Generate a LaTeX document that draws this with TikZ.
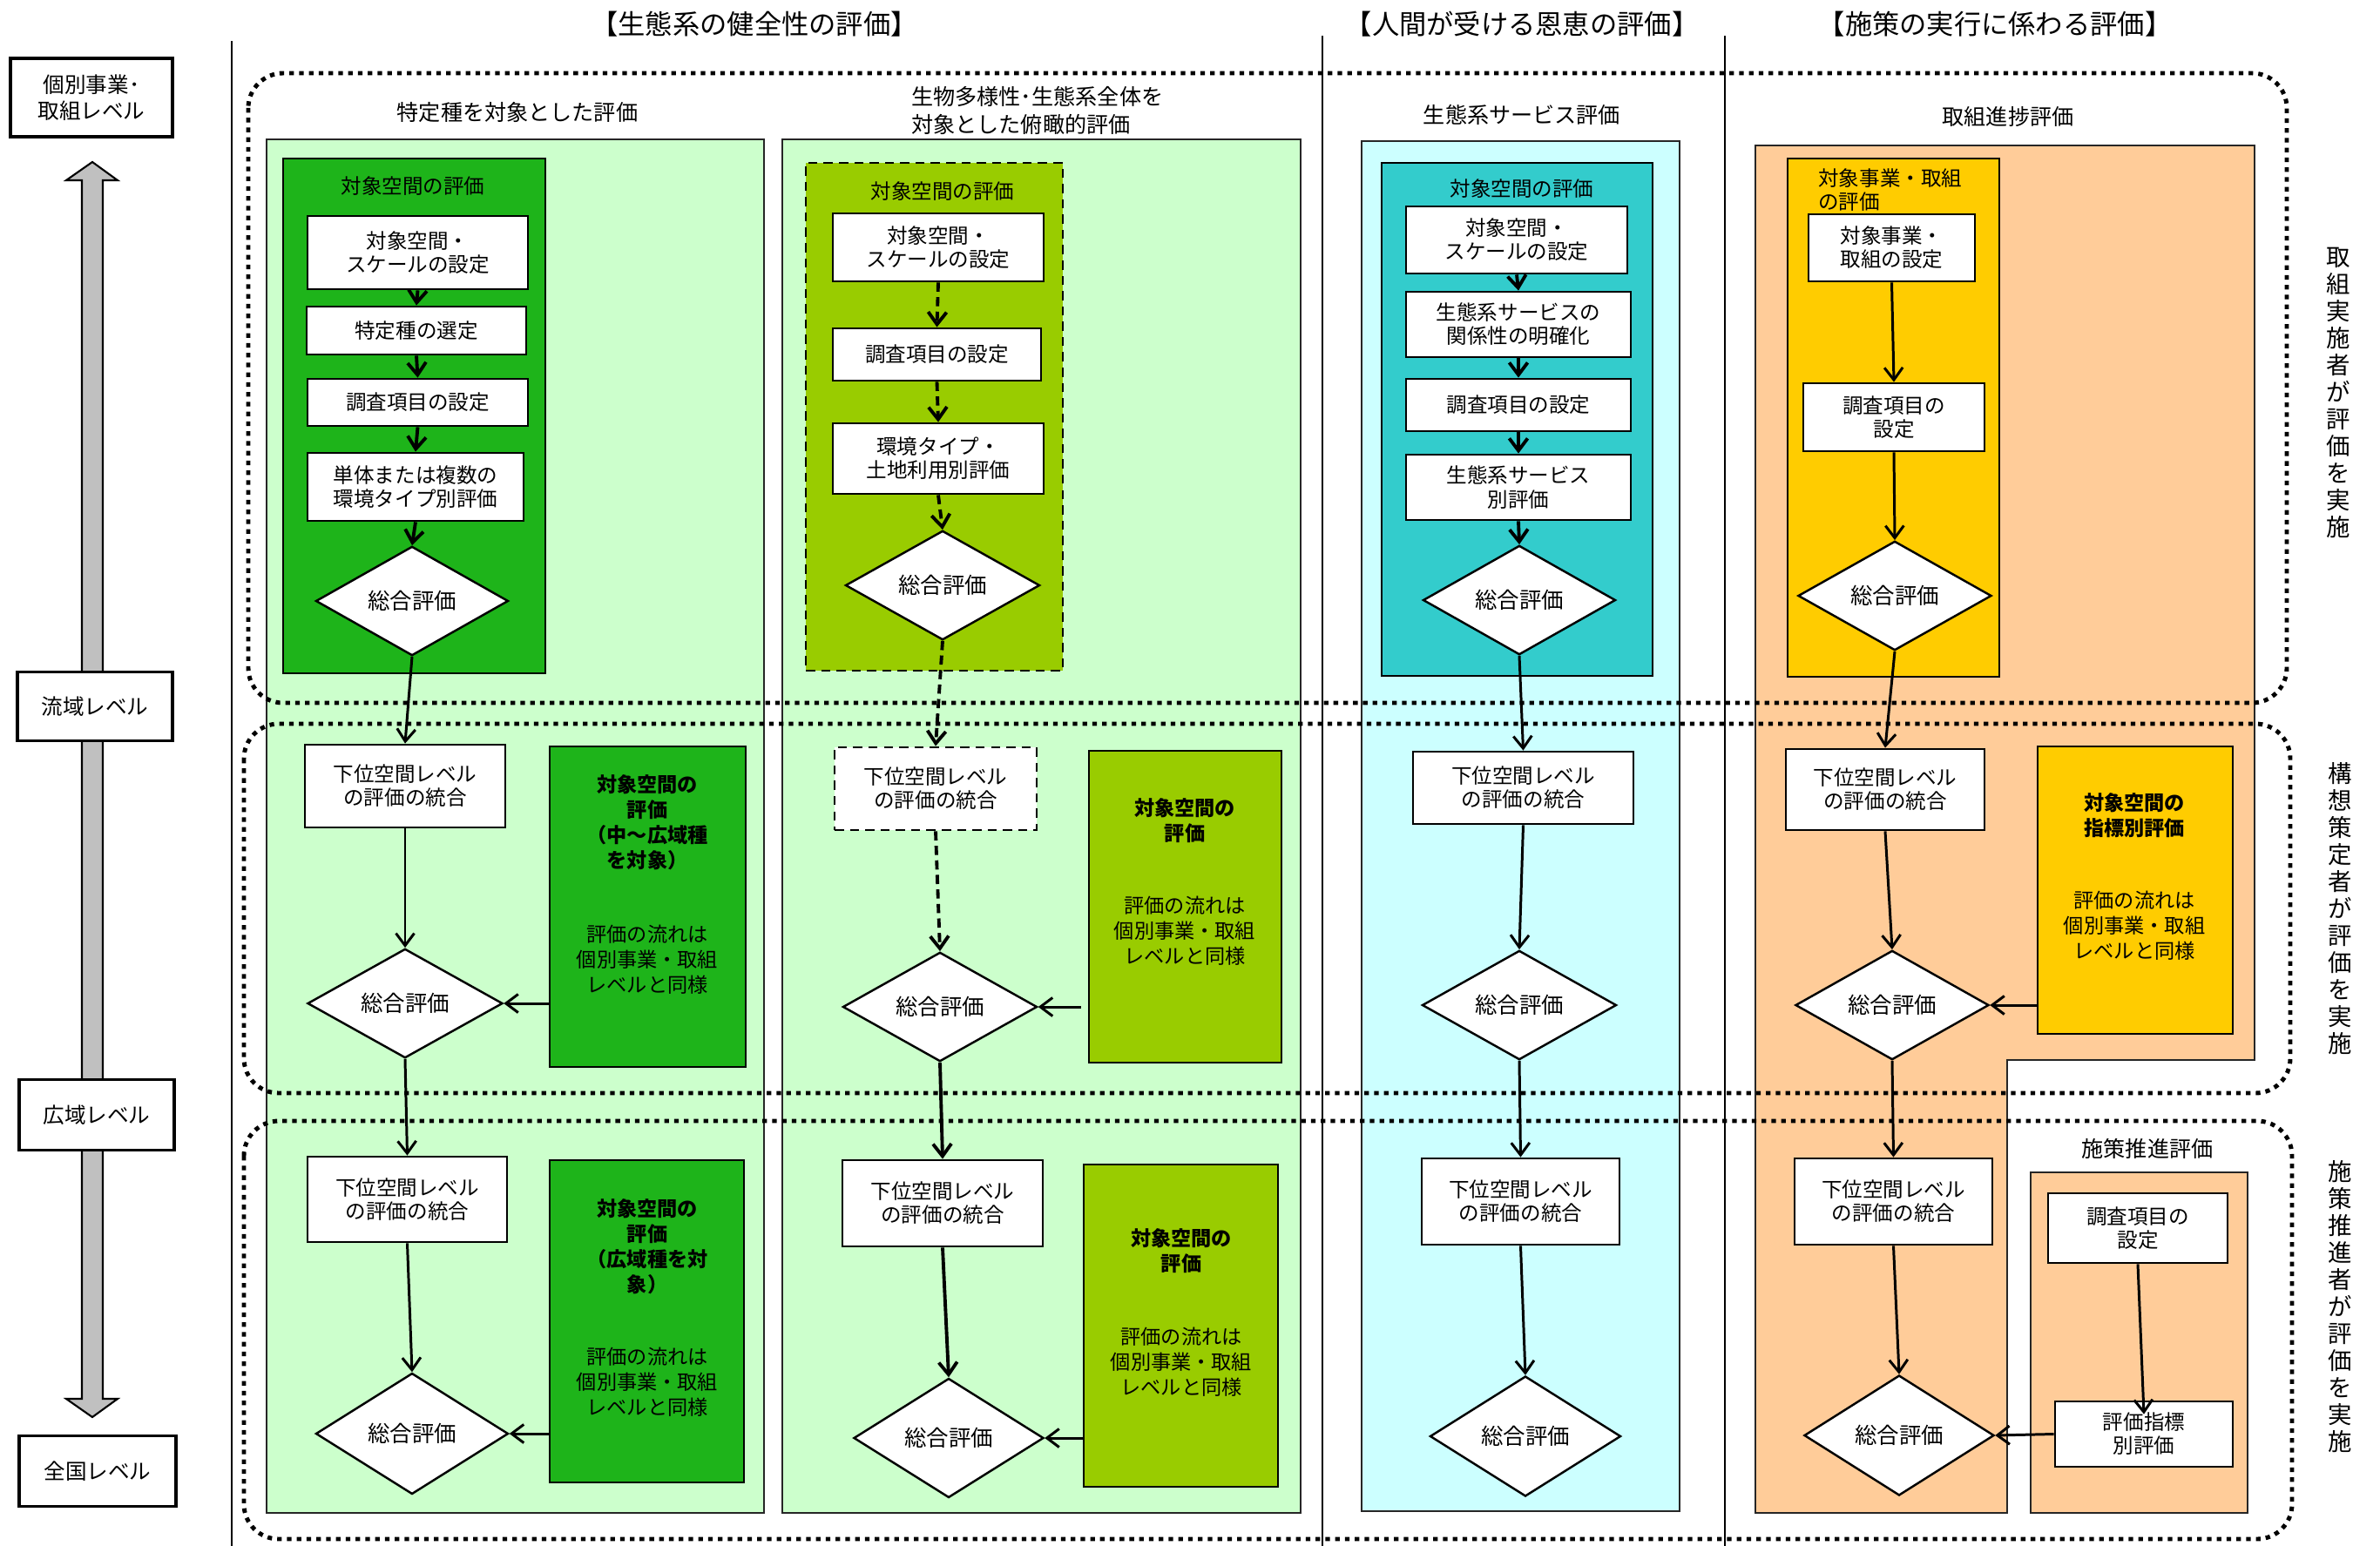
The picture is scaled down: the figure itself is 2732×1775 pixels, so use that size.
\documentclass[tikz,border=0pt]{standalone}
\usepackage{fontspec}
\setmainfont{Noto Sans CJK JP}
\usetikzlibrary{shapes.geometric,arrows.meta}
\newdimen\pxu
\pxu=0.02cm
\definecolor{cLG}{HTML}{CCFFCC}
\definecolor{cDG}{HTML}{1EB41A}
\definecolor{cOL}{HTML}{99CC00}
\definecolor{cLC}{HTML}{CCFFFF}
\definecolor{cTL}{HTML}{33CCCC}
\definecolor{cLO}{HTML}{FFCC99}
\definecolor{cGD}{HTML}{FFCC00}
\definecolor{cGR}{HTML}{C0C0C0}
\tikzset{
  sz/.style 2 args={minimum width=#1\pxu, minimum height=#2\pxu},
  wbox/.style={draw, line width=1.6pt, fill=white, align=center, inner sep=0pt,
    font=\fontsize{13.4}{15.4}\selectfont},
  dwbox/.style={wbox, dash pattern=on 6pt off 4pt},
  dia/.style={diamond, draw, line width=1.4pt, fill=white, inner sep=0pt,
    font=\fontsize{14.5}{16}\selectfont},
  grp/.style={draw, line width=1.4pt, inner sep=0pt},
  panel/.style={draw=black!85, line width=1pt},
  lvl/.style={draw, line width=2pt, fill=white, align=center, inner sep=0pt,
    font=\fontsize{14}{17}\selectfont},
  ttl/.style={font=\fontsize{14.3}{18}\selectfont, inner sep=0pt},
  hdr/.style={font=\fontsize{17.8}{20}\selectfont, inner sep=0pt},
  vtxt/.style={font=\fontsize{15.6}{17.6}\selectfont, align=center, inner sep=0pt},
  glab/.style={font=\fontsize{13.4}{15.4}\selectfont, inner sep=0pt},
  btxt/.style={font=\bfseries\fontsize{13.2}{16.4}\selectfont, align=center, inner sep=0pt},
  ntxt/.style={font=\fontsize{13.2}{16.6}\selectfont, align=center, inner sep=0pt},
  arr/.style={line width=1.7pt, -{Straight Barb[length=8pt,width=12pt]}},
  arrk/.style={line width=2.2pt, -{Straight Barb[length=8pt,width=12pt]}},
  darr/.style={arrk, dash pattern=on 6pt off 3.5pt},
  sepline/.style={line width=1.1pt},
  dotbox/.style={line width=2.8pt, dash pattern=on 3pt off 3.4pt, rounded corners=0.8cm},
}
\begin{document}
\begin{tikzpicture}[x=0.02cm, y=-0.02cm]
\useasboundingbox (0,0) rectangle (2732,1775);

% column separators
\draw[sepline] (266,47) -- (266,1775);
\draw[sepline] (1518,41) -- (1518,1775);
\draw[sepline] (1980,41) -- (1980,1775);

% section headers
\node[hdr] (h1) at (866,28) {【生態系の健全性の評価】};
\node[hdr] (h2) at (1747,28) {【人間が受ける恩恵の評価】};
\node[hdr] (h3) at (2290,28) {【施策の実行に係わる評価】};

% scale axis on the left
\draw[fill=cGR, line width=1.2pt] (94,207) -- (94,1606) -- (76,1606) -- (106,1627)
  -- (135,1606) -- (118,1606) -- (118,207) -- (135,207) -- (106,186) -- (76,207) -- cycle;
\node[lvl, sz={186}{90}] (L1) at (105,112) {個別事業･\\取組レベル};
\node[lvl, sz={178}{79}] (L2) at (109,811) {流域レベル};
\node[lvl, sz={178}{81}] (L3) at (111,1280) {広域レベル};
\node[lvl, sz={180}{81}] (L4) at (112,1689) {全国レベル};

% column panels
\draw[panel, fill=cLG] (306,160) rectangle (877,1737);
\draw[panel, fill=cLG] (898,160) rectangle (1493,1737);
\draw[panel, fill=cLC] (1563,162) rectangle (1928,1735);
\draw[panel, fill=cLO] (2015,167) -- (2588,167) -- (2588,1217) -- (2304,1217)
  -- (2304,1737) -- (2015,1737) -- cycle;
\draw[panel, fill=cLO] (2331,1346) rectangle (2580,1737);

% panel titles
\node[ttl] (s1) at (594,129) {特定種を対象とした評価};
\node[ttl, align=left, anchor=west] (s2) at (1046,127) {生物多様性･生態系全体を\\対象とした俯瞰的評価};
\node[ttl] (s3) at (1747,132) {生態系サービス評価};
\node[ttl] (s4) at (2305,134) {取組進捗評価};
\node[ttl] (s5) at (2465,1319) {施策推進評価};

% bands of who carries out the evaluation
\draw[dotbox] (285,84) rectangle (2625,807);
\draw[dotbox] (280,831) rectangle (2629,1255);
\draw[dotbox] (280,1287) rectangle (2631,1767);
\node[vtxt] (v1) at (2684,451) {取\\組\\実\\施\\者\\が\\評\\価\\を\\実\\施};
\node[vtxt] (v2) at (2686,1043) {構\\想\\策\\定\\者\\が\\評\\価\\を\\実\\施};
\node[vtxt] (v3) at (2686,1500) {施\\策\\推\\進\\者\\が\\評\\価\\を\\実\\施};

% ---- column 1: specific species
\node[grp, fill=cDG, sz={301}{591}] (g1) at (475.5,477.5) {};
\node[glab] (g1l) at (474,214) {対象空間の評価};
\node[wbox, sz={253}{84}] (a1) at (479.5,290) {対象空間・\\スケールの設定};
\node[wbox, sz={252}{55}] (a2) at (478,379.5) {特定種の選定};
\node[wbox, sz={253}{54}] (a3) at (479.5,462) {調査項目の設定};
\node[wbox, sz={248}{78}] (a4) at (477,559) {単体または複数の\\環境タイプ別評価};
\node[dia, sz={221}{119}] (ad1) at (473,690) {総合評価};
\node[wbox, sz={230}{95}] (a5) at (465,902.5) {下位空間レベル\\の評価の統合};
\node[dia, sz={224}{121}] (ad2) at (465,1152) {総合評価};
\node[grp, fill=cDG, sz={225}{368}] (g2) at (743.5,1041) {};
\node[btxt] (g2a) at (743,944) {対象空間の\\評価\\（中～広域種\\を対象）};
\node[ntxt] (g2b) at (743,1102) {評価の流れは\\個別事業・取組\\レベルと同様};
\node[wbox, sz={229}{98}] (a6) at (467.5,1377) {下位空間レベル\\の評価の統合};
\node[dia, sz={221}{139}] (ad3) at (473,1646) {総合評価};
\node[grp, fill=cDG, sz={223}{370}] (g3) at (742.5,1517) {};
\node[btxt] (g3a) at (743,1431) {対象空間の\\評価\\（広域種を対\\象）};
\node[ntxt] (g3b) at (743,1587) {評価の流れは\\個別事業・取組\\レベルと同様};

\draw[arrk] (a1.south) -- (a2.north);
\draw[arrk] (a2.south) -- (a3.north);
\draw[arrk] (a3.south) -- (a4.north);
\draw[arrk] (a4.south) -- (ad1.north);
\draw[arr] (ad1.south) -- (a5.north);
\draw[arr] (a5.south) -- (ad2.north);
\draw[arr] (ad2.south) -- (a6.north);
\draw[arr] (a6.south) -- (ad3.north);
\draw[arr] (g2.west |- ad2.east) -- (ad2.east);
\draw[arr] (g3.west |- ad3.east) -- (ad3.east);

% ---- column 2: biodiversity overview
\node[grp, fill=cOL, dash pattern=on 6pt off 4pt, sz={295}{583}] (o1) at (1072.5,478.5) {};
\node[glab] (o1l) at (1082,220) {対象空間の評価};
\node[wbox, sz={242}{78}] (b1) at (1077,284) {対象空間・\\スケールの設定};
\node[wbox, sz={239}{60}] (b2) at (1075.5,407) {調査項目の設定};
\node[wbox, sz={242}{81}] (b3) at (1077,526.5) {環境タイプ・\\土地利用別評価};
\node[dia, sz={223}{120}] (bd1) at (1082,672) {総合評価};
\node[dwbox, sz={232}{95}] (b4) at (1074,905.5) {下位空間レベル\\の評価の統合};
\node[dia, sz={223}{120}] (bd2) at (1079,1156) {総合評価};
\node[grp, fill=cOL, sz={221}{358}] (o2) at (1360.5,1041) {};
\node[btxt] (o2a) at (1360,942) {対象空間の\\評価};
\node[ntxt] (o2b) at (1360,1069) {評価の流れは\\個別事業・取組\\レベルと同様};
\node[wbox, sz={230}{99}] (b5) at (1082,1381.5) {下位空間レベル\\の評価の統合};
\node[dia, sz={218}{137}] (bd3) at (1089,1651) {総合評価};
\node[grp, fill=cOL, sz={223}{370}] (o3) at (1355.5,1522) {};
\node[btxt] (o3a) at (1356,1436.5) {対象空間の\\評価};
\node[ntxt] (o3b) at (1356,1564) {評価の流れは\\個別事業・取組\\レベルと同様};

\draw[darr] (b1.south) -- (b2.north);
\draw[darr] (b2.south) -- (b3.north);
\draw[darr] (b3.south) -- (bd1.north);
\draw[darr] (bd1.south) -- (b4.north);
\draw[darr] (b4.south) -- (bd2.north);
\draw[arrk] (bd2.south) -- (b5.north);
\draw[arrk] (b5.south) -- (bd3.north);
\draw[arr] ([xshift=-8\pxu]o2.west |- bd2.east) -- (bd2.east);
\draw[arr] (o3.west |- bd3.east) -- (bd3.east);

% ---- column 3: ecosystem services
\node[grp, fill=cTL, sz={311}{589}] (t1) at (1741.5,481.5) {};
\node[glab] (t1l) at (1747,217) {対象空間の評価};
\node[wbox, sz={254}{77}] (c1) at (1741,275.5) {対象空間・\\スケールの設定};
\node[wbox, sz={258}{75}] (c2) at (1743,372.5) {生態系サービスの\\関係性の明確化};
\node[wbox, sz={258}{60}] (c3) at (1743,465) {調査項目の設定};
\node[wbox, sz={258}{75}] (c4) at (1743,559.5) {生態系サービス\\別評価};
\node[dia, sz={221}{120}] (cd1) at (1744,689) {総合評価};
\node[wbox, sz={253}{83}] (c5) at (1748.5,904.5) {下位空間レベル\\の評価の統合};
\node[dia, sz={223}{120}] (cd2) at (1744,1154) {総合評価};
\node[wbox, sz={227}{99}] (c6) at (1745.5,1379.5) {下位空間レベル\\の評価の統合};
\node[dia, sz={219}{138}] (cd3) at (1751,1649) {総合評価};

\draw[arrk] (c1.south) -- (c2.north);
\draw[arrk] (c2.south) -- (c3.north);
\draw[arrk] (c3.south) -- (c4.north);
\draw[arrk] (c4.south) -- (cd1.north);
\draw[arr] (cd1.south) -- (c5.north);
\draw[arr] (c5.south) -- (cd2.north);
\draw[arr] (cd2.south) -- (c6.north);
\draw[arr] (c6.south) -- (cd3.north);

% ---- column 4: progress of measures
\node[grp, fill=cGD, sz={243}{595}] (y1) at (2173.5,479.5) {};
\node[glab, align=left, anchor=west, font=\fontsize{13.4}{15.6}\selectfont] (y1l) at (2087,218) {対象事業・取組\\の評価};
\node[wbox, sz={191}{77}] (e1) at (2171.5,284.5) {対象事業・\\取組の設定};
\node[wbox, sz={208}{78}] (e2) at (2174,479) {調査項目の\\設定};
\node[dia, sz={222}{117}] (ed1) at (2175,684) {総合評価};
\node[wbox, sz={228}{93}] (e3) at (2164,906.5) {下位空間レベル\\の評価の統合};
\node[grp, fill=cGD, sz={224}{330}] (y2) at (2451,1022) {};
\node[btxt] (y2a) at (2450,936) {対象空間の\\指標別評価};
\node[ntxt] (y2b) at (2450,1063) {評価の流れは\\個別事業・取組\\レベルと同様};
\node[dia, sz={222}{120}] (ed2) at (2172,1154) {総合評価};
\node[wbox, sz={227}{99}] (e4) at (2173.5,1379.5) {下位空間レベル\\の評価の統合};
\node[dia, sz={218}{138}] (ed3) at (2180,1648) {総合評価};
\node[wbox, sz={206}{80}] (e5) at (2454,1410) {調査項目の\\設定};
\node[wbox, sz={204}{75}] (e6) at (2461,1646.5) {評価指標\\別評価};

\draw[arr] (e1.south) -- (e2.north);
\draw[arr] (e2.south) -- (ed1.north);
\draw[arr] (ed1.south) -- (e3.north);
\draw[arr] (e3.south) -- (ed2.north);
\draw[arr] (y2.west |- ed2.east) -- (ed2.east);
\draw[arr] (ed2.south) -- (e4.north);
\draw[arr] (e4.south) -- (ed3.north);
\draw[arr] (e5.south) -- ([yshift=-16\pxu]e6.north);
\draw[arr] (e6.west) -- (ed3.east);
\end{tikzpicture}
\end{document}
